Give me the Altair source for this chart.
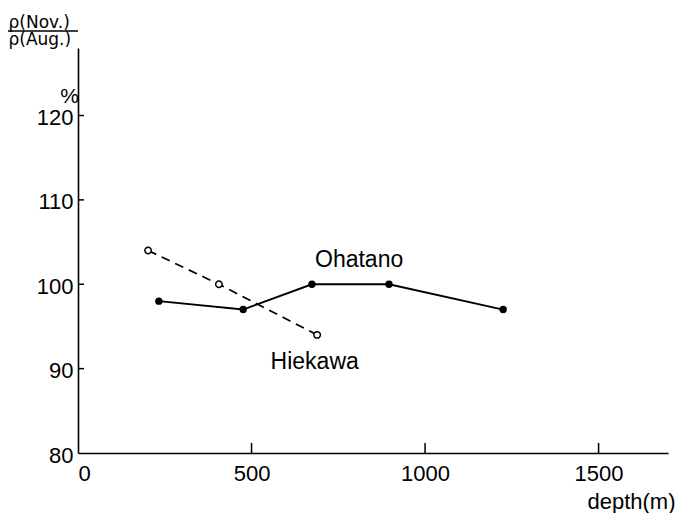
import altair as alt
import pandas as pd

# Data
ohatano_depth = [233, 476, 674, 896, 1225]
ohatano_ratio = [98, 97, 100, 100, 97]
hiekawa_depth = [202, 406, 689]
hiekawa_ratio = [104, 100, 94]

x_ticks = [0, 500, 1000, 1500]
y_ticks = [80, 90, 100, 110, 120]

label_names = ["Ohatano", "Hiekawa"]
label_depth = [810, 682]
label_ratio = [102.1, 89.9]

W, H = 590, 405
FONT = "Liberation Sans"

ohatano = pd.DataFrame({"depth": ohatano_depth, "ratio": ohatano_ratio})
hiekawa = pd.DataFrame({"depth": hiekawa_depth, "ratio": hiekawa_ratio})
labels = pd.DataFrame({"name": label_names, "depth": label_depth, "ratio": label_ratio})
xt = pd.DataFrame({"depth": x_ticks[1:]})
yt = pd.DataFrame({"ratio": y_ticks[1:]})

xscale = alt.Scale(domain=[0, 1700], nice=False, zero=False)
yscale = alt.Scale(domain=[80, 128], nice=False, zero=False)

xaxis = alt.Axis(values=x_ticks, format="d", ticks=False, grid=False, labelPadding=10,
                 labelFont=FONT, labelFontSize=22, labelColor="black",
                 domainColor="black", domainWidth=1.6,
                 title="depth(m)", titleAngle=0, titleAlign="right",
                 titleBaseline="alphabetic", titleX=597, titleY=55,
                 titleFontSize=22, titleFontWeight="normal", titleFont=FONT,
                 titleColor="black")
yaxis = alt.Axis(values=y_ticks, format="d", ticks=False, grid=False, labelPadding=5,
                 labelFont=FONT, labelFontSize=22, labelColor="black",
                 labelBaseline="middle", labelOffset=2,
                 domainColor="black", domainWidth=1.6,
                 title=["ρ(Nov.)", "ρ(Aug.)"], titleAngle=0, titleAlign="left",
                 titleBaseline="alphabetic", titleX=-70, titleY=-21,
                 titleLineHeight=17, titleFontSize=17, titleFontWeight="normal",
                 titleFont="DejaVu Sans", titleColor="black")

base_x = alt.X("depth:Q", scale=xscale, axis=xaxis)
base_y = alt.Y("ratio:Q", scale=yscale, axis=yaxis)

oh_line = alt.Chart(ohatano).mark_line(color="black", strokeWidth=1.9).encode(x=base_x, y=base_y)
oh_pts = alt.Chart(ohatano).mark_point(shape="circle", filled=True, color="black",
                                       size=55, opacity=1).encode(x="depth:Q", y="ratio:Q")
hi_line = alt.Chart(hiekawa).mark_line(color="black", strokeWidth=1.7,
                                       strokeDash=[9, 6]).encode(x="depth:Q", y="ratio:Q")
hi_pts = alt.Chart(hiekawa).mark_point(shape="circle", filled=True, fill="white",
                                       stroke="black", strokeWidth=1.5, size=42,
                                       opacity=1).encode(x="depth:Q", y="ratio:Q")
txt = alt.Chart(labels).mark_text(font=FONT, fontSize=23, color="black",
                                  align="center", baseline="alphabetic").encode(
    x="depth:Q", y="ratio:Q", text="name:N")

xtick = alt.Chart(xt).mark_rule(color="black", strokeWidth=1.5).encode(
    x="depth:Q", y=alt.value(H), y2=alt.value(H - 10))
ytick = alt.Chart(yt).mark_rule(color="black", strokeWidth=1.5).encode(
    y="ratio:Q", x=alt.value(0), x2=alt.value(6))

frac_bar = alt.Chart(pd.DataFrame({"a": [0]})).mark_rule(color="black", strokeWidth=1.3).encode(
    x=alt.value(-70), x2=alt.value(0), y=alt.value(-17))
pct = alt.Chart(pd.DataFrame({"t": ["%"]})).mark_text(font=FONT, fontSize=21, color="black",
                                                      align="center", baseline="alphabetic").encode(
    x=alt.value(-8.5), y=alt.value(55), text="t:N")

chart = alt.layer(hi_line, hi_pts, oh_line, oh_pts, txt, xtick, ytick, frac_bar, pct).properties(
    width=W, height=H,
    background="white",
    autosize=alt.AutoSizeParams(type="none"),
    padding={"left": 70, "top": 40, "right": 8, "bottom": 62},
).configure_view(stroke=None)

chart.save("out.html", embed_options={"renderer": "svg", "actions": False})
